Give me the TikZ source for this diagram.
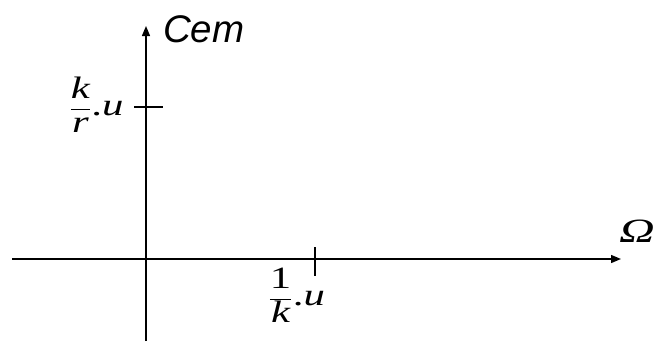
\documentclass[tikz,border=0pt]{standalone}
\usepackage{graphicx}
\usepackage{fontspec}
\setmainfont{Liberation Serif}
\newfontfamily\arialfont{Liberation Sans}
\usetikzlibrary{arrows.meta}
\newcommand{\wideit}[1]{\scalebox{1.38}[1]{#1}}
\begin{document}
\begin{tikzpicture}[x=1pt,y=-1pt,
  axis/.style={line width=1.4pt,-{Triangle[length=10pt,width=8pt]}},
  tickline/.style={line width=1.2pt},
  lbl/.style={inner sep=0pt,anchor=base west}]
\useasboundingbox (0,0) rectangle (657,343);
\coordinate (xs) at (12,259);
\coordinate (xe) at (621,259);
\coordinate (ys) at (146,341);
\coordinate (ye) at (146,26);
\draw[axis] (xs) -- (xe);
\draw[axis] (ys) -- (ye);
\coordinate (t1a) at (134,107);
\coordinate (t1b) at (163,107);
\coordinate (t2a) at (315,247);
\coordinate (t2b) at (315,276);
\draw[tickline] (t1a) -- (t1b);
\draw[tickline] (t2a) -- (t2b);
\node[lbl] (cem) at (163,42) {\fontsize{38.5}{42}\selectfont\arialfont\itshape Cem};
\node[lbl] (om) at (619,242) {\fontsize{34}{38}\selectfont\scalebox{1.45}[1]{\itshape Ω}};
\node[lbl] (kr) at (69,115) {\fontsize{31}{34}\selectfont\wideit{$\displaystyle\frac{\textit{k}}{\textit{r}}$.\textit{u}}};
\node[lbl] (ik) at (268,305) {\fontsize{31}{34}\selectfont\wideit{$\displaystyle\frac{\textrm{1}}{\textit{k}}$.\textit{u}}};
\end{tikzpicture}
\end{document}
